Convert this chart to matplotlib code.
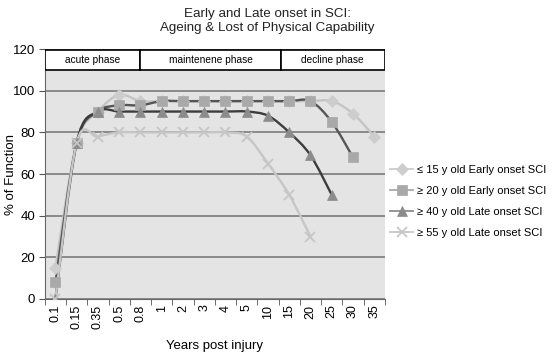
"""Early and late onset SCI: ageing and loss of physical capability."""

import matplotlib
matplotlib.use("Agg")
import matplotlib.pyplot as plt
import numpy as np
from matplotlib.path import Path
from matplotlib.patches import PathPatch, Rectangle
from matplotlib.lines import Line2D

plt.rcParams["font.family"] = ["Liberation Sans", "DejaVu Sans"]

years = ["0.1", "0.15", "0.35", "0.5", "0.8", "1", "2", "3", "4", "5",
         "10", "15", "20", "25", "30", "35"]

early_15 = [15, 75, 90, 98, 95, 95, 95, 95, 95, 95, 95, 95, 95, 95, 89, 78]
early_20 = [8, 75, 90, 93, 93, 95, 95, 95, 95, 95, 95, 95, 95, 85, 68]
late_40 = [0, 75, 90, 90, 90, 90, 90, 90, 90, 90, 88, 80, 69, 50]
late_55 = [0, 75, 78, 80, 80, 80, 80, 80, 80, 78, 65, 50, 30]

series_labels = ["\u2264 15 y old Early onset SCI", "\u2265 20 y old Early onset SCI",
                 "\u2265 40 y old Late onset SCI", "\u2265 55 y old Late onset SCI"]

phases = ["acute phase", "maintenene phase", "decline phase"]
phase_edges = [-0.5, 4.0, 10.6, 15.5]


def smooth_path(xs, ys):
    """Excel-like smoothed line as cubic Bezier segments through the points."""
    pts = np.column_stack([xs, ys]).astype(float)
    verts = [pts[0]]
    codes = [Path.MOVETO]
    n = len(pts)
    for i in range(n - 1):
        p0 = pts[i - 1] if i > 0 else pts[i]
        p1, p2 = pts[i], pts[i + 1]
        p3 = pts[i + 2] if i + 2 < n else pts[i + 1]
        c1 = p1 + (p2 - p0) / 6.0
        c2 = p2 - (p3 - p1) / 6.0
        verts += [c1, c2, p2]
        codes += [Path.CURVE4] * 3
    return Path(verts, codes)


fig = plt.figure(figsize=(5.53, 3.53), dpi=100)
ax = fig.add_axes([0.081, 0.153, 0.615, 0.708])
ax.set_facecolor("#e4e4e4")

styles = [
    dict(data=early_15, line="#c4c4c4", marker="D", mfc="#cdcdcd", ms=6.5),
    dict(data=early_20, line="#555555", marker="s", mfc="#a9a9a9", ms=6.5),
    dict(data=late_40, line="#3c3c3c", marker="^", mfc="#8c8c8c", ms=7.5),
    dict(data=late_55, line="#c6c6c6", marker="x", mfc="#c6c6c6", ms=7),
]

handles = []
for st, label in zip(styles, series_labels):
    xs = np.arange(len(st["data"]))
    ax.add_patch(PathPatch(smooth_path(xs, st["data"]), fill=False,
                           edgecolor=st["line"], lw=1.7, zorder=3))
    mk = dict(marker=st["marker"], ms=st["ms"], mfc=st["mfc"],
              mec=st["mfc"], mew=1.3 if st["marker"] == "x" else 0.5)
    ax.plot(xs, st["data"], ls="none", zorder=4, **mk)
    handles.append(Line2D([], [], color=st["mfc"], lw=1.3, label=label, **mk))

# phase header boxes
for k, name in enumerate(phases):
    x0, x1 = phase_edges[k], phase_edges[k + 1]
    ax.add_patch(Rectangle((x0, 110), x1 - x0, 9.5, facecolor="white",
                           edgecolor="black", lw=1.2, zorder=5))
    ax.text((x0 + x1) / 2, 114.6, name, ha="center", va="center",
            fontsize=7.3, zorder=6)

ax.set_xlim(-0.5, len(years) - 0.5)
ax.set_ylim(0, 120)
ax.set_yticks(np.arange(0, 121, 20))
ax.yaxis.grid(True, color="#8a8a8a", lw=1.4)
ax.set_axisbelow(True)
ax.set_xticks(np.arange(len(years)))
ax.set_xticklabels(years, rotation=90, fontsize=9)
ax.set_xticks(np.arange(-0.5, len(years)), minor=True)
ax.tick_params(axis="x", which="major", length=0, pad=4)
ax.tick_params(axis="x", which="minor", length=4, color="#555555")
ax.tick_params(axis="y", labelsize=9.5, length=4, color="#555555", pad=3)
for side in ["top", "right"]:
    ax.spines[side].set_visible(False)
ax.spines["left"].set_color("#666666")
ax.spines["bottom"].set_color("#666666")

ax.set_xlabel("Years post injury", fontsize=9.5, labelpad=8)
ax.set_ylabel("% of Function", fontsize=9.5)
ax.yaxis.set_label_coords(-0.082, 0.5)
fig.text(0.483, 0.978, "Early and Late onset in SCI:\nAgeing & Lost of Physical Capability",
         ha="center", va="top", fontsize=9.6, color="#222222", linespacing=1.2)

fig.legend(handles=handles, loc="center left", bbox_to_anchor=(0.688, 0.43),
           frameon=False, fontsize=8, handlelength=2.0, handletextpad=0.4,
           labelspacing=1.0)

fig.savefig("out.png", dpi=100)
